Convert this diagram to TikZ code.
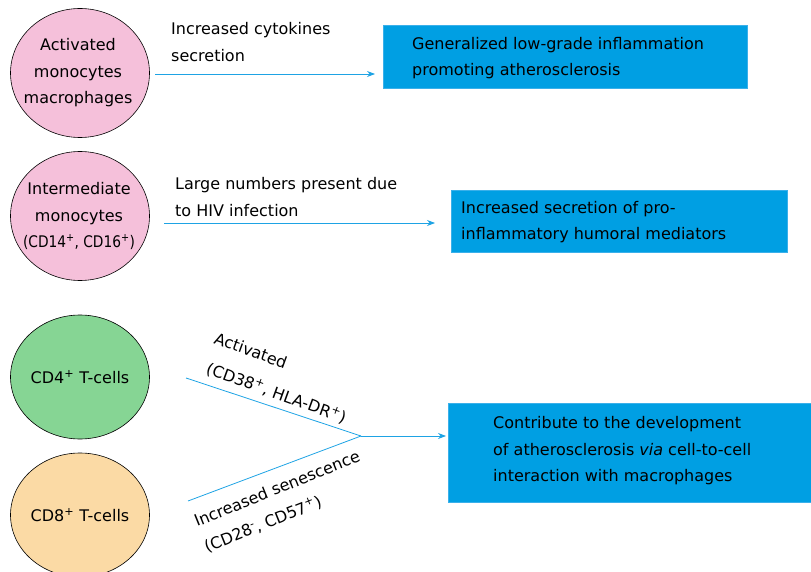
\documentclass[tikz,border=0pt]{standalone}
\usepackage{fontspec}
\setmainfont{DejaVu Sans}
\usetikzlibrary{shapes.geometric,arrows.meta}
\definecolor{pinkc}{HTML}{F5C0DA}
\definecolor{greenc}{HTML}{86D594}
\definecolor{orangec}{HTML}{FBDAA5}
\definecolor{boxc}{HTML}{009FE3}
\definecolor{boxedge}{HTML}{3AB0EA}
\definecolor{arrc}{HTML}{1EA3E4}
\begin{document}
\begin{tikzpicture}[x=1pt,y=-1pt,
  every node/.style={font=\fontsize{16}{26.5}\selectfont, inner sep=0pt},
  cell/.style={ellipse, draw=black, line width=0.6pt, minimum width=139pt, minimum height=129pt},
  bluebox/.style={rectangle, fill=boxc, draw=boxedge, line width=0.6pt, anchor=north west},
  lbl/.style={align=left, anchor=west},
  arr/.style={draw=arrc, line width=0.8pt, -{Stealth[length=8pt,width=6pt]}},
  ln/.style={draw=arrc, line width=0.8pt}]
\useasboundingbox (0,0) rectangle (811,572);
% cells
\node[cell, fill=pinkc] (e1) at (80,73) {};
\node[align=center] (t1) at (78,73) {Activated\\monocytes\\macrophages};
\node[cell, fill=pinkc] (e2) at (80,216) {};
\node[align=center] (t2) at (79,216) {Intermediate\\monocytes\\\scalebox{0.86}[1]{(CD14\textsuperscript{+}, CD16\textsuperscript{+})}};
\node[cell, fill=greenc, minimum height=124pt] (e3) at (80,377) {};
\node (t3) at (e3) {CD4\textsuperscript{+} T-cells};
\node[cell, fill=orangec, minimum height=124pt] (e4) at (80,515) {};
\node (t4) at (e4) {CD8\textsuperscript{+} T-cells};
% boxes
\node[bluebox, minimum width=364pt, minimum height=63pt] (b1) at (383,25) {};
\node[lbl] (bt1) at (412,58) {Generalized low-grade inflammation\\promoting atherosclerosis};
\node[bluebox, minimum width=336pt, minimum height=62pt] (b2) at (451,190) {};
\node[lbl] (bt2) at (461,222) {Increased secretion of pro-\\inflammatory humoral mediators};
\node[bluebox, minimum width=366pt, minimum height=99pt] (b3) at (448,403) {};
\node[lbl] (bt3) at (493,451) {Contribute to the development\\of atherosclerosis \textit{via} cell-to-cell\\interaction with macrophages};
% labels
\node[lbl] (l1) at (171,42) {Increased cytokines\\secretion};
\node[lbl] (l2) at (175,197) {Large numbers present due\\to HIV infection};
\node[anchor=base west, rotate=-20] (l3a) at (213,343) {Activated};
\node[anchor=base west, rotate=-20] (l3b) at (205,373) {(CD38\textsuperscript{+}, HLA-DR\textsuperscript{+})};
\node[anchor=base west, rotate=22] (l4a) at (197,527) {Increased senescence};
\node[anchor=base west, rotate=22] (l4b) at (207,553) {(CD28\textsuperscript{-}, CD57\textsuperscript{+})};
% connectors
\coordinate (a1s) at (155,74);
\draw[arr, shorten >=8pt] (a1s) -- (a1s -| b1.west);
\coordinate (a2s) at (164,223);
\draw[arr, shorten >=16pt] (a2s) -- (a2s -| b2.west);
\coordinate (c4e) at (186,378);
\coordinate (c8e) at (188,501);
\coordinate (j) at (361,436);
\draw[ln] (c4e) -- (j);
\draw[ln] (c8e) -- (j);
\draw[arr, shorten >=2pt] (j) -- (j -| b3.west);
\end{tikzpicture}
\end{document}
